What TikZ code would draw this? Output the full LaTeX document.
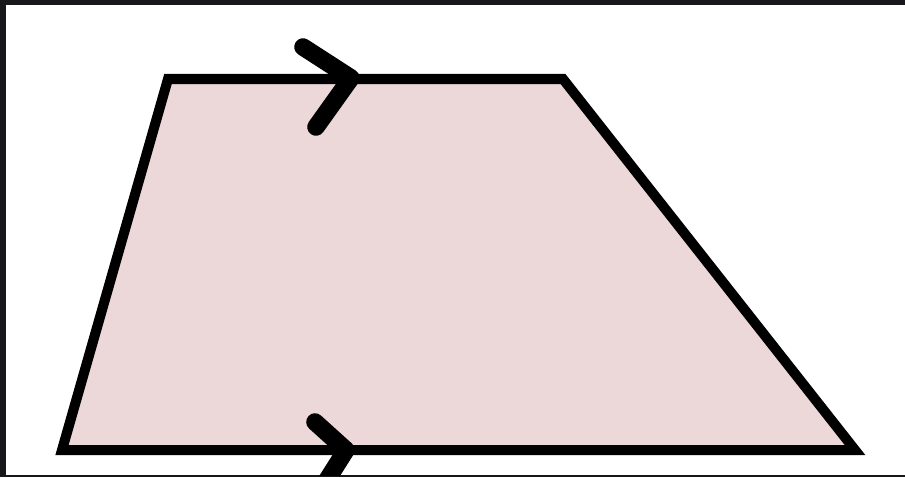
\documentclass[tikz,border=0pt]{standalone}
\usepackage{xcolor}
\usepackage{tikz}
\definecolor{frameDark}{HTML}{18181A}
\definecolor{shapePink}{HTML}{ECD8D9}

\begin{document}
\begin{tikzpicture}[x=0.02cm,y=-0.02cm,
    side/.style={draw=black,line width=5.7pt,line join=miter,fill=shapePink},
    tick/.style={draw=black,line width=10pt,line cap=round,line join=round}
]
    % Frame
    \fill[frameDark] (0,0) rectangle (905,477);
    \fill[white] (6,5) rectangle (905,475);
    \useasboundingbox (0,0) rectangle (905,477);

    % Corners
    \coordinate (tl) at (168,79);
    \coordinate (tr) at (563,79);
    \coordinate (br) at (855,450);
    \coordinate (bl) at (62,450);

    % Trapezium
    \draw[side] (tl) -- (tr) -- (br) -- (bl) -- cycle;

    % Parallel marks
    \begin{scope}
        \clip (6,5) rectangle (905,475);
        \draw[tick] (303,47) -- (351,78) -- (316,127);
        \draw[tick] (315,422) -- (346,450) -- (322,488);
    \end{scope}
\end{tikzpicture}
\end{document}
